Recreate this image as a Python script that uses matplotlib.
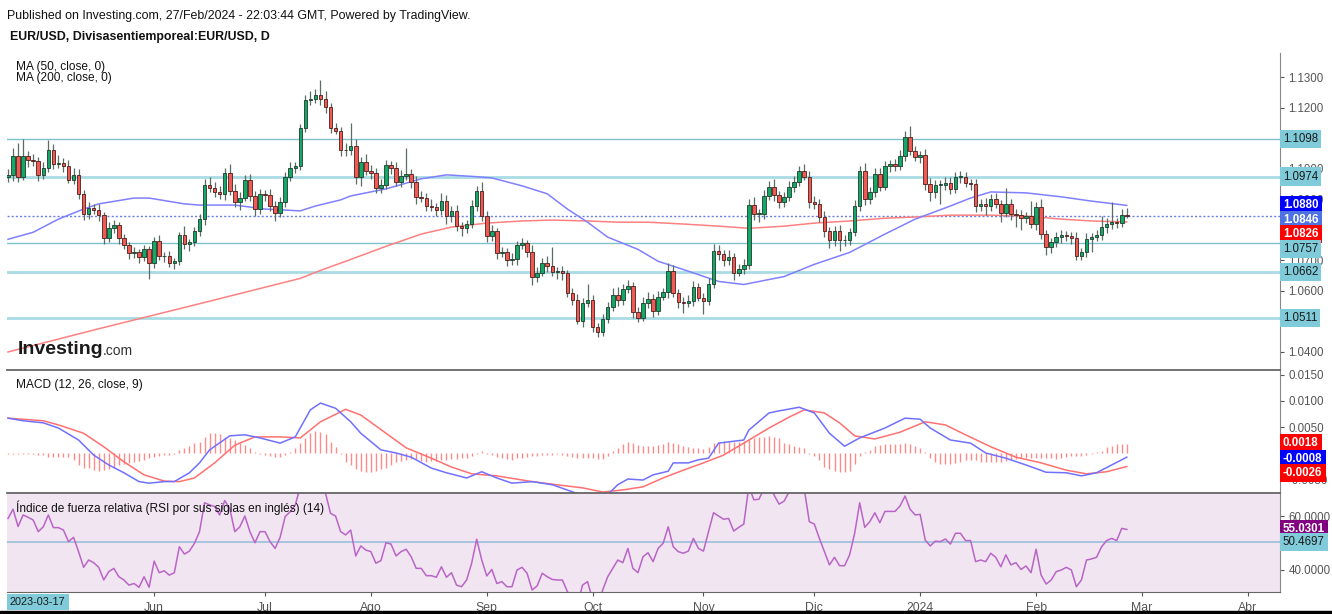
import matplotlib
matplotlib.use("Agg")
import matplotlib.pyplot as plt
from matplotlib.patches import Rectangle
import numpy as np

plt.rcParams['font.family'] = ['Liberation Sans', 'DejaVu Sans']

# Daily EUR/USD closes, 21 Apr 2023 .. 27 Feb 2024 (bar index 0..222, weekdays)
closes = [
    1.0980, 1.1043, 1.0974, 1.1043, 1.1030, 1.1025, 1.0980, 1.1003, 1.1062, 1.1017,
    1.1020, 1.1010, 1.0964, 1.0980, 1.0918, 1.0852, 1.0870, 1.0865, 1.0848, 1.0772,
    1.0805, 1.0815, 1.0772, 1.0750, 1.0723, 1.0726, 1.0710, 1.0736, 1.0690, 1.0762,
    1.0713, 1.0713, 1.0693, 1.0697, 1.0783, 1.0752, 1.0759, 1.0795, 1.0835, 1.0947,
    1.0937, 1.0924, 1.0918, 1.0987, 1.0927, 1.0891, 1.0905, 1.0964, 1.0911, 1.0868,
    1.0918, 1.0915, 1.0878, 1.0855, 1.0891, 1.0973, 1.1003, 1.1010, 1.1132, 1.1224,
    1.1228, 1.1241, 1.1228, 1.1201, 1.1132, 1.1125, 1.1063, 1.1060, 1.1076, 1.0974,
    1.1023, 1.0993, 1.0987, 1.0937, 1.0947, 1.1013, 1.1003, 1.0957, 1.0977, 1.0983,
    1.0957, 1.0908, 1.0905, 1.0878, 1.0875, 1.0865, 1.0895, 1.0845, 1.0862, 1.0812,
    1.0805, 1.0818, 1.0878, 1.0927, 1.0845, 1.0779, 1.0795, 1.0723, 1.0726, 1.0700,
    1.0705, 1.0749, 1.0756, 1.0729, 1.0644, 1.0660, 1.0693, 1.0680, 1.0663, 1.0664,
    1.0657, 1.0594, 1.0571, 1.0502, 1.0561, 1.0571, 1.0482, 1.0466, 1.0508, 1.0548,
    1.0588, 1.0571, 1.0607, 1.0617, 1.0532, 1.0512, 1.0561, 1.0575, 1.0535, 1.0581,
    1.0595, 1.0666, 1.0594, 1.0565, 1.0562, 1.0568, 1.0614, 1.0578, 1.0568, 1.0621,
    1.0730, 1.0720, 1.0700, 1.0711, 1.0660, 1.0673, 1.0686, 1.0882, 1.0852, 1.0852,
    1.0911, 1.0941, 1.0914, 1.0891, 1.0908, 1.0941, 1.0957, 1.0993, 1.0974, 1.0891,
    1.0885, 1.0842, 1.0796, 1.0766, 1.0796, 1.0766, 1.0766, 1.0792, 1.0878, 1.0993,
    1.0901, 1.0924, 1.0983, 1.0941, 1.1009, 1.1016, 1.1009, 1.1043, 1.1105, 1.1059,
    1.1040, 1.1046, 1.0950, 1.0924, 1.0947, 1.0947, 1.0954, 1.0934, 1.0974, 1.0974,
    1.0954, 1.0950, 1.0878, 1.0885, 1.0878, 1.0901, 1.0885, 1.0855, 1.0885, 1.0852,
    1.0848, 1.0838, 1.0845, 1.0819, 1.0875, 1.0786, 1.0743, 1.0759, 1.0776, 1.0783,
    1.0779, 1.0772, 1.0713, 1.0726, 1.0770, 1.0776, 1.0783, 1.0809, 1.0819, 1.0825,
    1.0822, 1.0848, 1.0846,
]
first_open = 1.0972

# wick lengths above / below the body, in pips
wick_up = [
    20, 25, 40, 56, 15, 18, 12, 20, 33, 20,
    25, 15, 20, 22, 18, 12, 20, 15, 18, 10,
    22, 18, 12, 15, 10, 18, 12, 15, 10, 15,
    20, 15, 18, 12, 10, 28, 12, 15, 18, 20,
    25, 18, 20, 15, 30, 22, 18, 15, 20, 15,
    15, 12, 20, 18, 15, 15, 20, 12, 15, 18,
    25, 20, 48, 25, 15, 18, 12, 20, 74, 20,
    15, 25, 18, 15, 20, 15, 12, 18, 20, 85,
    15, 20, 18, 15, 22, 12, 25, 20, 15, 18,
    12, 15, 20, 15, 30, 15, 20, 12, 18, 15,
    20, 15, 18, 12, 20, 18, 15, 20, 63, 15,
    18, 12, 15, 20, 15, 50, 15, 12, 18, 15,
    20, 25, 15, 20, 12, 15, 18, 22, 15, 20,
    15, 25, 18, 12, 15, 20, 18, 12, 15, 20,
    25, 20, 15, 22, 12, 15, 18, 20, 25, 15,
    18, 20, 25, 12, 15, 18, 20, 15, 22, 18,
    20, 15, 18, 12, 15, 20, 18, 15, 20, 15,
    25, 15, 20, 18, 15, 12, 15, 20, 18, 34,
    15, 12, 18, 20, 15, 15, 18, 20, 15, 20,
    15, 12, 18, 15, 20, 15, 18, 12, 52, 15,
    15, 18, 12, 49, 15, 26, 12, 15, 18, 15,
    12, 15, 20, 15, 18, 12, 15, 36, 20, 66,
    15, 20, 22,
]
wick_dn = [
    15, 20, 18, 12, 25, 15, 20, 12, 15, 18,
    15, 20, 12, 15, 18, 20, 15, 12, 18, 20,
    12, 15, 18, 12, 20, 15, 18, 12, 50, 15,
    12, 18, 15, 20, 12, 15, 20, 12, 15, 18,
    12, 15, 18, 20, 12, 15, 25, 12, 15, 22,
    15, 20, 18, 25, 12, 15, 12, 18, 15, 12,
    15, 12, 18, 20, 15, 12, 22, 18, 15, 25,
    30, 15, 20, 18, 15, 12, 20, 15, 18, 15,
    20, 25, 15, 18, 12, 20, 15, 25, 18, 15,
    25, 15, 12, 18, 15, 20, 15, 18, 12, 20,
    15, 20, 12, 18, 25, 15, 12, 18, 15, 25,
    20, 15, 18, 12, 20, 15, 18, 18, 15, 12,
    15, 20, 18, 15, 20, 15, 12, 18, 20, 15,
    12, 18, 15, 20, 34, 15, 18, 12, 45, 15,
    12, 18, 20, 15, 25, 12, 18, 15, 20, 25,
    15, 12, 18, 20, 15, 12, 18, 15, 12, 20,
    18, 15, 20, 25, 18, 36, 20, 15, 12, 18,
    20, 15, 18, 15, 12, 20, 15, 12, 18, 15,
    15, 20, 18, 30, 20, 63, 15, 18, 12, 20,
    15, 18, 20, 15, 30, 18, 15, 30, 12, 20,
    40, 39, 15, 12, 20, 15, 25, 18, 15, 20,
    15, 18, 12, 13, 15, 42, 12, 15, 20, 15,
    15, 12, 8,
]

# moving averages (bar index, value)
ma50_i = [0, 5, 10, 15, 18, 25, 28, 35, 38, 45, 51, 58, 61, 66, 68, 75, 82, 87, 93, 96,
          102, 107, 111, 115, 119, 125, 129, 134, 141, 146, 154, 160, 167, 174, 180, 187,
          191, 195, 202, 209, 215, 222]
ma50_v = [1.0769, 1.0792, 1.0835, 1.0868, 1.0885, 1.0904, 1.0904, 1.0885, 1.0881, 1.0881,
          1.0868, 1.0862, 1.0878, 1.0898, 1.0911, 1.0934, 1.0967, 1.0980, 1.0974, 1.0970,
          1.0944, 1.0918, 1.0868, 1.0825, 1.0776, 1.0736, 1.0697, 1.0670, 1.0631, 1.0621,
          1.0647, 1.0687, 1.0726, 1.0786, 1.0835, 1.0878, 1.0904, 1.0924, 1.0921, 1.0908,
          1.0894, 1.0880]
ma200_i = [0, 18, 38, 58, 62, 68, 75, 82, 88, 95, 102, 108, 115, 121, 127, 134, 141, 147,
           154, 160, 167, 174, 180, 187, 195, 202, 209, 215, 222]
ma200_v = [1.0400, 1.0476, 1.0558, 1.0641, 1.0667, 1.0703, 1.0746, 1.0786, 1.0809, 1.0822,
           1.0829, 1.0832, 1.0829, 1.0825, 1.0825, 1.0819, 1.0812, 1.0805, 1.0812, 1.0822,
           1.0829, 1.0838, 1.0842, 1.0848, 1.0848, 1.0845, 1.0835, 1.0829, 1.0826]

# MACD (x 1e-4)
macd_i = [0, 3, 7, 10, 14, 17, 20, 23, 26, 28, 31, 33, 36, 38, 40, 44, 47, 50, 54, 57,
          60, 62, 65, 68, 70, 74, 77, 80, 84, 87, 91, 94, 97, 100, 104, 108, 113, 115, 119, 121,
          123, 126, 128, 131, 132, 135, 137, 139, 141, 146, 147, 151, 153, 157, 160, 163, 166, 169, 174, 178,
          181, 183, 187, 191, 194, 198, 202, 206, 210, 213, 216, 219, 222]
macd_v = [67, 62, 58, 48, 25, -4, -23, -38, -55, -58, -55, -55, -38, -19, 6, 33, 35, 29, 19, 31,
          83, 96, 86, 60, 38, 6, 0, -8, -29, -38, -48, -36, -48, -58, -55, -61, -78, -82, -80, -61,
          -50, -52, -42, -35, -19, -19, -13, -10, 19, 25, 44, 77, 81, 88, 77, 38, 13, 29, 48, 67,
          65, 48, 25, 19, 0, -10, -23, -37, -38, -44, -38, -23, -8]
signal_i = [0, 7, 10, 15, 19, 23, 27, 31, 34, 37, 41, 45, 49, 54, 58, 62, 67, 70, 75, 79,
            84, 88, 92, 97, 104, 108, 114, 118, 122, 126, 130, 134, 138, 142, 146, 151, 155, 158, 162, 165,
            168, 172, 177, 182, 186, 190, 195, 200, 205, 210, 214, 218, 222]
signal_v = [67, 62, 54, 38, 12, -17, -42, -54, -55, -48, -19, 15, 31, 31, 29, 60, 84, 73, 38, 10,
            -10, -27, -40, -44, -55, -60, -67, -75, -71, -65, -48, -33, -19, -4, 19, 48, 69, 83, 77, 58,
            33, 27, 40, 60, 54, 35, 12, -8, -19, -33, -40, -36, -26]
hist = [
    -1, -2, -2, -1, -2, -2, -3, -3, -7, -7,
    -7, -7, -7, -13, -23, -28, -29, -33, -34, -33,
    -31, -29, -24, -22, -20, -18, -15, -13, -10, -8,
    -6, -4, -3, -1, 6, 10, 13, 19, 22, 31,
    38, 38, 36, 31, 28, 25, 19, 15, 10, 1,
    -2, -4, -6, -7, -7, -4, 1, 9, 19, 28,
    38, 42, 40, 36, 22, 12, -1, -17, -23, -31,
    -35, -36, -36, -35, -31, -28, -23, -18, -15, -13,
    -12, -13, -15, -17, -15, -15, -13, -13, -12, -12,
    -10, -9, -5, -1, 3, -1, -4, -7, -9, -12,
    -13, -10, -9, -8, -6, -5, -4, -3, -3, -2,
    -4, -5, -7, -9, -10, -10, -10, -12, -12, -6,
    3, 10, 17, 22, 19, 15, 14, 14, 14, 15,
    18, 21, 20, 17, 14, 12, 10, 9, 8, 12,
    19, 22, 24, 22, 22, 22, 23, 27, 28, 30,
    31, 33, 31, 28, 20, 17, 14, 12, 9, -1,
    -5, -13, -26, -31, -35, -36, -36, -35, -22, -5,
    1, 6, 13, 15, 17, 17, 17, 17, 19, 17,
    14, 10, 1, -10, -18, -22, -22, -22, -20, -17,
    -14, -13, -13, -17, -18, -18, -18, -17, -15, -13,
    -12, -10, -10, -10, -10, -10, -10, -10, -12, -9,
    -7, -6, -6, -5, -4, -2, 1, 4, 12, 14,
    17, 17, 18,
]

# RSI (14)
rsi = [
    59.1, 62.5, 56.1, 60.4, 59.5, 58.5, 54.2, 56.0, 60.4, 55.7,
    55.7, 54.8, 50.5, 52.1, 46.8, 41.0, 43.7, 42.7, 41.0, 36.3,
    39.4, 40.6, 37.5, 36.3, 34.4, 35.0, 33.6, 37.5, 33.6, 43.3,
    39.0, 39.7, 38.1, 39.0, 48.6, 45.9, 47.0, 49.9, 54.2, 64.9,
    64.1, 63.5, 60.4, 65.7, 62.8, 54.2, 56.0, 60.0, 54.2, 50.1,
    54.2, 54.2, 50.5, 48.0, 52.1, 59.8, 61.6, 64.1, 70.9, 74.0,
    75.5, 76.0, 73.0, 68.4, 61.0, 60.0, 54.2, 53.0, 54.8, 45.2,
    48.9, 47.4, 46.8, 42.5, 43.5, 50.1, 49.6, 45.2, 46.8, 47.7,
    44.9, 40.6, 40.6, 37.9, 37.9, 37.3, 41.2, 37.3, 39.0, 34.4,
    33.8, 36.3, 42.5, 51.4, 43.7, 37.8, 40.2, 35.0, 35.7, 33.8,
    33.8, 40.0, 41.0, 38.8, 32.6, 34.1, 38.8, 37.5, 36.5, 36.3,
    36.3, 32.0, 29.5, 27.0, 34.4, 35.7, 29.0, 26.5, 32.6, 37.5,
    40.6, 43.7, 42.7, 48.0, 40.6, 39.0, 44.9, 46.4, 43.1, 48.0,
    49.9, 56.0, 48.6, 46.8, 46.2, 47.0, 51.7, 48.0, 47.0, 54.2,
    61.2, 60.0, 58.8, 59.1, 54.4, 55.8, 57.0, 71.0, 66.0, 66.2,
    70.0, 72.0, 67.8, 64.4, 65.5, 69.0, 71.0, 72.5, 70.0, 57.9,
    57.0, 51.7, 46.8, 41.9, 44.7, 41.6, 41.6, 45.6, 53.6, 64.9,
    55.8, 57.9, 61.2, 57.5, 61.7, 61.7, 61.7, 63.7, 67.4, 62.5,
    60.4, 60.6, 51.1, 48.9, 50.7, 50.5, 51.5, 49.6, 53.6, 53.6,
    50.9, 50.9, 43.1, 43.7, 43.1, 46.2, 44.7, 41.2, 45.6, 41.9,
    42.7, 40.2, 41.5, 39.0, 47.7, 38.1, 34.8, 36.3, 39.4, 40.0,
    41.0, 40.0, 33.8, 36.3, 43.7, 44.1, 44.7, 48.6, 50.9, 51.7,
    50.9, 55.4, 55.03,
]

levels = [1.1098, 1.0974, 1.0757, 1.0662, 1.0511]
level_thick = [False, True, False, True, True]
last_price = 1.0846
ma50_last, ma200_last = 1.0880, 1.0826
macd_last, signal_last, hist_last = -0.0008, -0.0026, 0.0018
rsi_last, rsi_ma = 55.0301, 50.4697

month_idx = [29, 51, 72, 95, 116, 138, 160, 181, 204, 225, 246]
month_lbl = ['Jun', 'Jul', 'Ago', 'Sep', 'Oct', 'Nov', 'Dic', '2024', 'Feb', 'Mar', 'Abr']

price_ticks = [1.04, 1.05, 1.06, 1.07, 1.08, 1.09, 1.10, 1.11, 1.12, 1.13]
price_hidden = [1.05, 1.08, 1.11]          # fully covered by label boxes
macd_ticks = [-0.005, 0.0, 0.005, 0.010, 0.015]
macd_hidden = [0.0]
rsi_ticks = [40, 50, 60]
rsi_hidden = [50]

# ---------------------------------------------------------------
W, H = 1332, 614
fig = plt.figure(figsize=(W / 100, H / 100), dpi=100)


def box(l, t, r, b):
    return [l / W, 1 - b / H, (r - l) / W, (b - t) / H]


ax1 = fig.add_axes(box(7, 53, 1280, 370))
ax2 = fig.add_axes(box(7, 370, 1280, 493), sharex=ax1)
ax3 = fig.add_axes(box(7, 493, 1280, 592), sharex=ax1)

tick_col = '#555555'
for ax in (ax1, ax2, ax3):
    ax.yaxis.tick_right()
    ax.tick_params(axis='y', labelsize=8.3, colors=tick_col, length=3, pad=3)
    ax.tick_params(axis='x', length=0, labelbottom=False)
    for s in ('left', 'top', 'bottom'):
        ax.spines[s].set_visible(False)
    ax.spines['right'].set_color('#888888')
    ax.set_facecolor('white')


def set_right_ticks(ax, ticks, hidden):
    ax.set_yticks(ticks)
    ax.set_yticklabels(['' if any(abs(t - h) < 1e-9 for h in hidden) else '%.4f' % t
                        for t in ticks])


n = len(closes)
idx = np.arange(n)
c = np.array(closes)
o = np.concatenate([[first_open], c[:-1]])
hi = np.maximum(o, c) + np.array(wick_up) / 1e4
lo = np.minimum(o, c) - np.array(wick_dn) / 1e4
up = c >= o

# price panel
for lv, thick in zip(levels, level_thick):
    ax1.axhline(lv, color='#a9dbe4' if thick else '#7fc2cc', lw=2.0 if thick else 1.0, zorder=1)
ax1.axhline(last_price, color='#6a7fe6', lw=1.0, ls=(0, (1.5, 1.5)), zorder=1)

ax1.plot(ma200_i, ma200_v, color='#ff8080', lw=1.1, zorder=2)
ax1.plot(ma50_i, ma50_v, color='#8080ff', lw=1.1, zorder=2)

ax1.vlines(idx, lo, hi, color='#5a6e62', lw=0.9, zorder=3)
body_h = np.maximum(np.abs(c - o), 0.00018)
body_b = np.minimum(o, c)
ax1.bar(idx[up], body_h[up], bottom=body_b[up], width=0.7, color='#14a866',
        edgecolor='#1f3a2b', lw=0.6, zorder=4)
ax1.bar(idx[~up], body_h[~up], bottom=body_b[~up], width=0.7, color='#f05a52',
        edgecolor='#4a1d1a', lw=0.6, zorder=4)

ax1.set_ylim(1.0341, 1.1379)
ax1.set_xlim(-0.2, 252.4)
set_right_ticks(ax1, price_ticks, price_hidden)


def rlabel(ax, y, text, fc, tc):
    ax.text(1.0022, y, text, transform=ax.get_yaxis_transform(), ha='left', va='center',
            fontsize=8.3, color=tc, fontweight='bold' if tc == 'white' else 'normal',
            bbox=dict(boxstyle='square,pad=0.28', fc=fc, ec='none'), zorder=20, clip_on=False)


teal = '#7fcbd9'
rlabel(ax1, 1.1098, '%.4f' % levels[0], teal, '#1a1a1a')
rlabel(ax1, 1.0974, '%.4f' % levels[1], teal, '#1a1a1a')
rlabel(ax1, 1.0881, '%.4f' % ma50_last, '#0000ff', 'white')
rlabel(ax1, 1.0833, '%.4f' % last_price, '#4f72e3', 'white')
rlabel(ax1, 1.0786, '%.4f' % ma200_last, '#ff0000', 'white')
rlabel(ax1, 1.0737, '%.4f' % levels[2], teal, '#1a1a1a')
rlabel(ax1, 1.0662, '%.4f' % levels[3], teal, '#1a1a1a')
rlabel(ax1, 1.0511, '%.4f' % levels[4], teal, '#1a1a1a')

# MACD panel
hv = np.array(hist) / 1e4
ax2.vlines(idx, 0, hv, color='#ff8a8a', lw=1.0, zorder=2)
ax2.plot(signal_i, np.array(signal_v) / 1e4, color='#ff7070', lw=1.1, zorder=3)
ax2.plot(macd_i, np.array(macd_v) / 1e4, color='#7070ff', lw=1.1, zorder=3)
ax2.set_ylim(-0.00769, 0.01596)
set_right_ticks(ax2, macd_ticks, macd_hidden)
ax2.spines['top'].set_visible(True)
ax2.spines['top'].set_color('#666666')
ax2.spines['top'].set_linewidth(1.3)
rlabel(ax2, 0.0019, '%.4f' % hist_last, '#ff0000', 'white')
rlabel(ax2, -0.00115, '%.4f' % macd_last, '#0000ff', 'white')
rlabel(ax2, -0.0038, '%.4f' % signal_last, '#ff0000', 'white')

# RSI panel
ax3.set_facecolor('#f2e5f2')
ax3.axhline(rsi_ma, color='#93bcd8', lw=1.1, zorder=1)
ax3.plot(idx, rsi, color='#b865c6', lw=1.1, zorder=2)
ax3.set_ylim(31.85, 68.52)
set_right_ticks(ax3, rsi_ticks, rsi_hidden)
for s in ('top', 'bottom'):
    ax3.spines[s].set_visible(True)
    ax3.spines[s].set_color('#666666')
ax3.spines['top'].set_linewidth(1.3)
rlabel(ax3, rsi_last, '%.4f' % rsi_last, '#800080', 'white')
rlabel(ax3, rsi_ma, '%.4f' % rsi_ma, teal, '#1a1a1a')

ax3.set_xticks(month_idx)
ax3.set_xticklabels(month_lbl)
ax3.tick_params(axis='x', labelbottom=True, length=3, colors=tick_col, labelsize=8.8, pad=4)

# texts
fig.text(7 / W, 1 - 16 / H, 'Published on Investing.com, 27/Feb/2024 - 22:03:44 GMT, Powered by TradingView.',
         fontsize=8.9, color='#111111', va='center')
fig.text(10 / W, 1 - 37 / H, 'EUR/USD, Divisasentiemporeal:EUR/USD, D', fontsize=8.9,
         fontweight='bold', color='#111111', va='center')
fig.text(16 / W, 1 - 67 / H, 'MA (50, close, 0)', fontsize=8.6, color='#111111', va='center')
fig.text(16 / W, 1 - 78.5 / H, 'MA (200, close, 0)', fontsize=8.6, color='#111111', va='center')
fig.text(16 / W, 1 - 385 / H, 'MACD (12, 26, close, 9)', fontsize=8.6, color='#111111', va='center')
fig.text(16 / W, 1 - 508 / H, 'Índice de fuerza relativa (RSI por sus siglas en inglés) (14)',
         fontsize=8.6, color='#111111', va='center')
fig.text(18 / W, 1 - 349 / H, 'Investing', fontsize=14, fontweight='bold', color='#1a1a1a', va='center')
fig.text(103 / W, 1 - 351 / H, '.com', fontsize=10, color='#333333', va='center')
fig.text(10 / W, 1 - 602 / H, '2023-03-17', fontsize=7.8, color='#1a1a1a', va='center',
         bbox=dict(boxstyle='square,pad=0.32', fc=teal, ec='none'))

fig.patches.append(Rectangle((0, 0), 1, 3 / H, transform=fig.transFigure, color='black'))

fig.savefig('out.png', dpi=100)
